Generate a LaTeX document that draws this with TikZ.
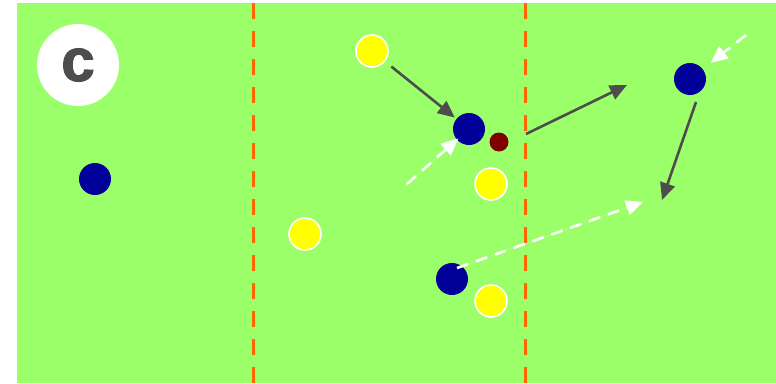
\documentclass[tikz,border=0pt]{standalone}
\usepackage{fontspec}
\setmainfont{Liberation Sans}
\newfontfamily\tagfont{Liberation Sans}[BoldFeatures={FakeBold=2}]
\usetikzlibrary{arrows.meta}

\definecolor{pitch}{RGB}{155,255,106}
\definecolor{zoneline}{RGB}{255,102,0}
\definecolor{teamblue}{RGB}{0,0,153}
\definecolor{teamyellow}{RGB}{255,255,0}
\definecolor{ballred}{RGB}{128,0,0}
\definecolor{rungray}{RGB}{77,77,77}

\begin{document}
\begin{tikzpicture}[x=1pt,y=-1pt,>={Triangle[length=17pt,width=15pt]},
  blueplayer/.style={circle,inner sep=0pt,minimum size=32pt,fill=teamblue},
  yellowplayer/.style={circle,inner sep=0pt,minimum size=32pt,fill=teamyellow,draw=white,line width=1.6pt},
  ball/.style={circle,inner sep=0pt,minimum size=19pt,fill=ballred},
  run/.style={->,draw=rungray,fill=rungray,line width=2.6pt},
  pass/.style={->,draw=white,fill=white,line width=2.6pt,dash pattern=on 12pt off 8pt}]
  \useasboundingbox (0,0) rectangle (776,383);
  \fill[pitch] (17,3) rectangle (776,383);

  % zones
  \foreach \x in {253,525} {
    \draw[zoneline,line width=3pt,dash pattern=on 16pt off 12pt] (\x,3) -- (\x,383);
  }

  % label
  \node[circle,fill=white,minimum size=82pt,inner sep=0pt] (tag) at (78,65) {};
  \node[text=rungray,font=\tagfont\fontsize{60}{60}\selectfont\bfseries] at (tag.center) {c};

  % players
  \node[blueplayer] (b1) at (95,179) {};
  \node[blueplayer] (b2) at (469,129) {};
  \node[blueplayer] (b3) at (690,79) {};
  \node[blueplayer] (b4) at (452,279) {};
  \node[yellowplayer] (y1) at (372,51) {};
  \node[yellowplayer] (y2) at (491,184) {};
  \node[yellowplayer] (y3) at (305,234) {};
  \node[yellowplayer] (y4) at (491,301) {};
  \node[ball] (bl) at (499,142) {};

  % free ends
  \coordinate (passA) at (407,184);
  \coordinate (runBs) at (526,134);
  \coordinate (runBe) at (627,85);
  \coordinate (runCs) at (696,102);
  \coordinate (runCe) at (662,200);
  \coordinate (passBs) at (746,35);
  \coordinate (passCs) at (457,268);
  \coordinate (passCe) at (643,202);

  % movements
  \draw[run,shorten <=8pt,shorten >=2pt] (y1) -- (b2);
  \draw[run] (runBs) -- (runBe);
  \draw[run] (runCs) -- (runCe);
  \draw[pass,shorten >=-2pt] (passA) -- (b2);
  \draw[pass,shorten >=10pt] (passBs) -- (b3);
  \draw[pass] (passCs) -- (passCe);
\end{tikzpicture}
\end{document}
